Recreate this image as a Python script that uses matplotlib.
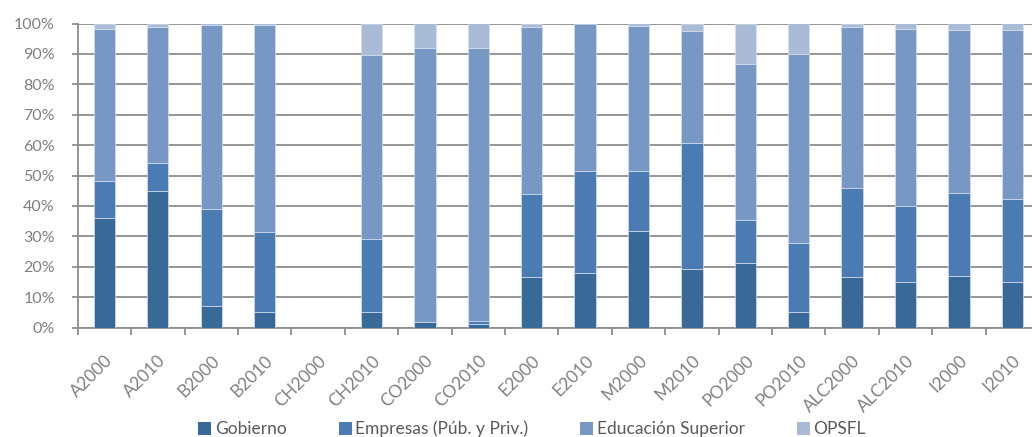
import matplotlib.pyplot as plt
import numpy as np
from matplotlib.patches import Patch

categories = ['A2000', 'A2010', 'B2000', 'B2010', 'CH2000', 'CH2010', 'CO2000', 'CO2010',
              'E2000', 'E2010', 'M2000', 'M2010', 'PO2000', 'PO2010', 'ALC2000', 'ALC2010',
              'I2000', 'I2010']
gobierno = [35.9, 45.0, 7.2, 5.2, 0, 5.2, 1.9, 1.1, 16.5, 18.0, 31.9, 19.4, 21.1, 5.0, 16.5, 15.0, 16.8, 15.0]
empresas = [12.4, 9.0, 31.7, 26.1, 0, 24.0, 0.0, 1.0, 27.3, 33.6, 19.7, 41.4, 14.1, 22.9, 29.5, 25.0, 27.5, 27.4]
educacion = [49.9, 44.7, 60.7, 68.2, 0, 60.3, 90.2, 89.7, 54.9, 48.4, 47.7, 36.6, 51.5, 62.1, 52.7, 58.2, 53.5, 55.6]
opsfl = [1.8, 1.3, 0.4, 0.5, 0, 10.5, 7.9, 8.2, 1.3, 0.0, 0.7, 2.6, 13.3, 10.0, 1.3, 1.8, 2.2, 2.0]

series = [('Gobierno', gobierno, '#386998'),
          ('Empresas (Púb. y Priv.)', empresas, '#4a7bb3'),
          ('Educación Superior', educacion, '#7797c4'),
          ('OPSFL', opsfl, '#a9bbd6')]

plt.rcParams['font.family'] = ['Lato', 'DejaVu Sans']
txt = '#808080'
grid = '#8c8c8c'

fig = plt.figure(figsize=(10.32, 4.37), dpi=100)
ax = fig.add_axes([77.7 / 1032, 1 - 327.5 / 437, (1039 - 77.7) / 1032, 304 / 437])

x = np.arange(len(categories))
bottom = np.zeros(len(categories))
for name, vals, col in series:
    ax.bar(x, vals, 0.4, bottom=bottom, color=col, edgecolor='#d5deec', linewidth=0.5,
           label=name, zorder=3)
    bottom += np.array(vals)

ax.set_xlim(-0.5, len(categories) - 0.5)
ax.set_ylim(0, 100)
ax.set_yticks(range(0, 101, 10))
ax.set_yticklabels([f'{v}%' for v in range(0, 101, 10)])
ax.yaxis.grid(True, color=grid, linewidth=1.3, zorder=0)
ax.set_axisbelow(True)

ax.set_xticks(x)
ax.set_xticklabels(categories, rotation=45, ha='right', va='top', rotation_mode='anchor')
ax.set_xticks(np.arange(-0.5, len(categories), 1), minor=True)
ax.tick_params(axis='x', which='major', length=0, pad=18, labelsize=12.5, colors=txt)
ax.tick_params(axis='x', which='minor', length=5, width=1.3, color=grid)
ax.tick_params(axis='y', length=4.5, width=1.3, color=grid, pad=12, labelsize=11.5, labelcolor=txt)

for s in ['top', 'right']:
    ax.spines[s].set_visible(False)
for s in ['left', 'bottom']:
    ax.spines[s].set_color(grid)
    ax.spines[s].set_linewidth(1.3)

handles = [Patch(facecolor=c, label=n) for n, _, c in series]
leg = fig.legend(handles=handles, loc='center', bbox_to_anchor=(532 / 1032, 1 - 429 / 437),
                 ncol=4, frameon=False, fontsize=12.5, handlelength=0.75, handleheight=0.75,
                 handletextpad=0.2, columnspacing=3.0)
for t in leg.get_texts():
    t.set_color('#595959')

fig.savefig('out.png', dpi=100)
